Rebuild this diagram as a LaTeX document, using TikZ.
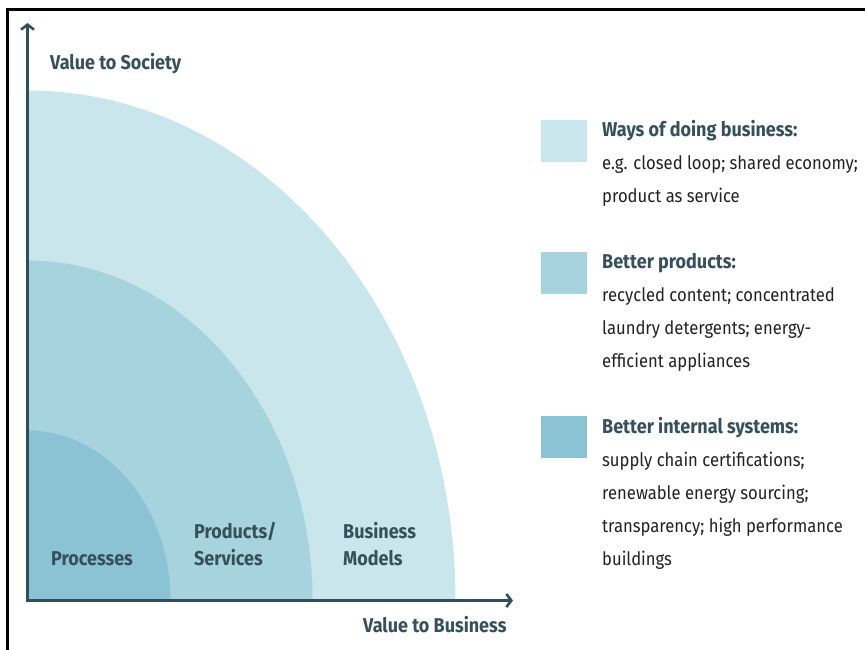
\documentclass[tikz,border=0pt]{standalone}
\usepackage{fontspec}
\setmainfont{Fira Sans}[FakeStretch=0.9]
\usetikzlibrary{arrows.meta}

\definecolor{ringout}{HTML}{C8E6EC}
\definecolor{ringmid}{HTML}{A7D3DF}
\definecolor{ringin}{HTML}{8BC3D4}
\definecolor{axiscol}{HTML}{2F4F5C}
\definecolor{labcol}{HTML}{35505C}
\definecolor{bodycol}{HTML}{222222}

\tikzset{
	axis/.style={draw=axiscol,line width=2.6pt,-{Straight Barb[length=5pt,width=13pt]}},
	lbl/.style={inner sep=0,anchor=base west,align=left,text=labcol,font=\fontsize{20}{27}\selectfont\bfseries},
	keybox/.style={fill=#1,minimum width=46pt,minimum height=42pt,inner sep=0,anchor=south west},
	keytext/.style={inner sep=0,anchor=base west,align=left,text=bodycol,font=\fontsize{18.5}{33}\selectfont},
}
\newcommand{\keyhead}[1]{{\fontsize{20}{33}\selectfont\bfseries\color{labcol}#1}}

\begin{document}
\begin{tikzpicture}[x=1pt,y=1pt]
	\useasboundingbox (0,0) rectangle (865,650);
	%FRAME
	\draw[line width=3pt] (7.5,0)--(7.5,640.5)--(865,640.5);

	%RINGS
	\coordinate (o) at (27.5,49.5);
	\fill[ringout] (o)--++(428,0) arc[start angle=0,end angle=90,x radius=428pt,y radius=510pt]--cycle;
	\fill[ringmid] (o)--++(285,0) arc[start angle=0,end angle=90,x radius=285pt,y radius=340pt]--cycle;
	\fill[ringin] (o)--++(143,0) arc[start angle=0,end angle=90,x radius=143pt,y radius=170pt]--cycle;

	%AXES
	\coordinate (xend) at (513,49.5);
	\coordinate (yend) at (27.5,627);
	\draw[axis] (26,49.5)--(xend);
	\draw[axis] (27.5,48.2)--(yend);
	\node[lbl] (society) at (50,580) {Value to Society};
	\node[lbl] (business) at (363,17) {Value to Business};

	%RING LABELS (base = last line)
	\node[lbl] (proc) at (51,84) {Processes};
	\node[lbl] (prod) at (194,84) {Products/\\Services};
	\node[lbl] (model) at (343,84) {Business\\Models};

	%KEY
	\node[keybox=ringout] (keya) at (541,488) {};
	\node[keytext] (texta) at (602,447) {\keyhead{Ways of doing business:}\\
		e.g. closed loop; shared economy;\\
		product as service};
	\node[keybox=ringmid] (keyb) at (541,356) {};
	\node[keytext] (textb) at (602,282) {\keyhead{Better products:}\\
		recycled content; concentrated\\
		laundry detergents; energy-\\
		efficient appliances};
	\node[keybox=ringin] (keyc) at (541,192) {};
	\node[keytext] (textc) at (602,84) {\keyhead{Better internal systems:}\\
		supply chain certifications;\\
		renewable energy sourcing;\\
		transparency; high performance\\
		buildings};
\end{tikzpicture}
\end{document}
